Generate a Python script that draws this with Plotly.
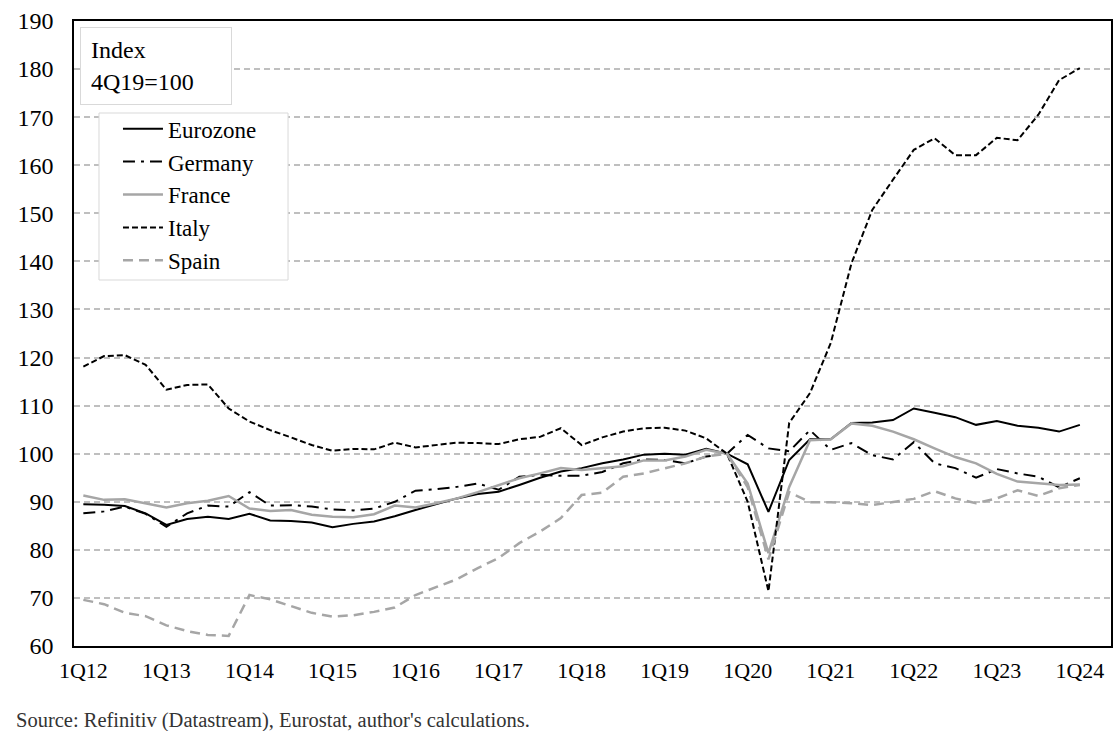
import plotly.graph_objects as go

quarters = [f"{q}Q{y}" for y in range(12, 25) for q in range(1, 5)][:49]
tick_labels = [f"1Q{y}" for y in range(12, 25)]

eurozone = [89.5, 89.4, 89.1, 87.6, 85.2, 86.4, 86.9, 86.4, 87.5, 86.1, 86.0, 85.7,
            84.7, 85.4, 85.9, 87.0, 88.3, 89.5, 90.7, 91.6, 92.1, 93.5, 95.0, 96.3,
            97.0, 98.0, 98.8, 99.8, 100.0, 99.8, 101.0, 100.0, 97.8, 87.9, 98.7, 103.0,
            103.0, 106.4, 106.5, 107.0, 109.4, 108.5, 107.6, 106.0, 106.8, 105.8, 105.4, 104.6,
            106.0]
germany = [87.6, 88.0, 89.0, 87.5, 84.8, 87.6, 89.2, 89.0, 92.0, 89.2, 89.3, 89.0,
           88.4, 88.2, 88.6, 90.0, 92.3, 92.6, 93.1, 93.8, 92.5, 95.2, 95.6, 95.4,
           95.4, 96.2, 98.0, 98.8, 98.7, 98.0, 99.4, 100.0, 103.9, 101.1, 100.5, 104.9,
           100.8, 102.2, 99.7, 98.8, 102.4, 98.0, 97.0, 95.0, 96.8, 95.9, 95.2, 93.0,
           94.9]
france = [91.3, 90.4, 90.5, 89.7, 88.8, 89.7, 90.2, 91.2, 88.6, 88.1, 88.3, 87.3,
          86.9, 86.8, 87.4, 89.2, 88.8, 89.7, 90.7, 92.0, 93.5, 94.9, 95.9, 97.0,
          96.6, 97.0, 97.4, 98.6, 98.6, 99.4, 100.8, 100.0, 93.8, 79.3, 93.1, 102.8,
          103.0, 106.3, 105.8, 104.6, 103.0, 101.1, 99.3, 98.0, 95.8, 94.2, 93.8, 93.5,
          93.6]
italy = [118.1, 120.3, 120.5, 118.5, 113.3, 114.3, 114.4, 109.4, 106.7, 104.9, 103.4, 101.8,
         100.6, 101.0, 100.9, 102.3, 101.3, 101.8, 102.3, 102.2, 102.0, 103.0, 103.5, 105.3,
         101.8, 103.4, 104.6, 105.3, 105.4, 104.8, 103.2, 100.0, 90.0, 71.4, 106.4, 112.6,
         123.0, 139.6, 150.7, 157.0, 163.2, 165.6, 162.1, 162.1, 165.7, 165.2, 170.5, 177.7,
         180.2]
spain = [69.6, 68.7, 66.9, 66.2, 64.3, 63.1, 62.3, 62.1, 70.6, 69.7, 68.3, 66.9,
         66.1, 66.4, 67.1, 68.0, 70.6, 72.3, 73.9, 76.2, 78.3, 81.4, 83.8, 86.6,
         91.4, 91.9, 95.2, 95.9, 97.0, 98.0, 99.4, 100.0, 93.0, 78.0, 92.0, 89.9,
         89.9, 89.7, 89.3, 90.0, 90.6, 92.2, 90.7, 89.7, 90.7, 92.4, 91.2, 92.8,
         93.5]

series = [
    ("Eurozone", eurozone, "#000000", "solid", 2),
    ("Germany", germany, "#000000", "12px,6px,3px,6px", 2),
    ("France", france, "#a6a6a6", "solid", 2.5),
    ("Italy", italy, "#000000", "6px,3px", 2),
    ("Spain", spain, "#a6a6a6", "10px,6px", 2.5),
]

FONT = "Liberation Serif"
fig = go.Figure()
for name, vals, color, dash, width in series:
    fig.add_trace(go.Scatter(
        x=quarters, y=vals, name=name, mode="lines", legendgroup=name,
        line=dict(color=color, dash=dash, width=width),
    ))

fig.update_layout(
    width=1113, height=731,
    margin=dict(l=74, r=2, t=21, b=85, autoexpand=False),
    paper_bgcolor="white", plot_bgcolor="white",
    font=dict(family=FONT, size=20, color="black"),
    showlegend=True,
    legend=dict(
        x=0.0424, y=0.862, xanchor="left", yanchor="top",
        bgcolor="rgba(0,0,0,0)", borderwidth=0,
        font=dict(family=FONT, size=23, color="black"),
        traceorder="grouped", tracegroupgap=0,
        itemwidth=40,
    ),
    shapes=[
        dict(type="rect", xref="paper", yref="paper",
             x0=0.0241, x1=0.2064, y0=0.5856, y1=0.8528,
             fillcolor="white", line=dict(color="#d9d9d9", width=1), layer="above"),
    ],
    xaxis=dict(
        type="category", range=[-0.45, 49.5], automargin=False,
        tickmode="array", tickvals=tick_labels, ticktext=tick_labels,
        showgrid=False, showline=True, mirror=True, linecolor="black", linewidth=1.5,
        ticks="", ticklabelstandoff=4, tickfont=dict(size=22),
        zeroline=False,
    ),
    yaxis=dict(
        range=[60, 190], dtick=10, tick0=60, automargin=False,
        showgrid=True, gridcolor="#bfbfbf", griddash="6px,4px", gridwidth=1.5,
        showline=True, mirror=True, linecolor="black", linewidth=1.5,
        ticks="", ticklabelstandoff=14, tickfont=dict(size=24),
        zeroline=False,
    ),
    annotations=[
        dict(
            text="Index<br>4Q19=100", xref="paper", yref="paper",
            x=0.006, y=0.99, xanchor="left", yanchor="top", align="left",
            showarrow=False, bgcolor="white", bordercolor="#d9d9d9", borderwidth=1,
            borderpad=10, width=130, height=56,
            font=dict(family=FONT, size=24, color="black"),
        ),
        dict(
            text="Source: Refinitiv (Datastream), Eurostat, author's calculations.",
            xref="paper", yref="paper", x=-0.058, y=-0.097, xanchor="left", yanchor="top",
            showarrow=False,
            font=dict(family=FONT, size=20.5, color="#333333"),
        ),
    ],
)

fig.write_html("out.html", config={"displayModeBar": False},
               post_script="document.body.style.margin='0px';")
